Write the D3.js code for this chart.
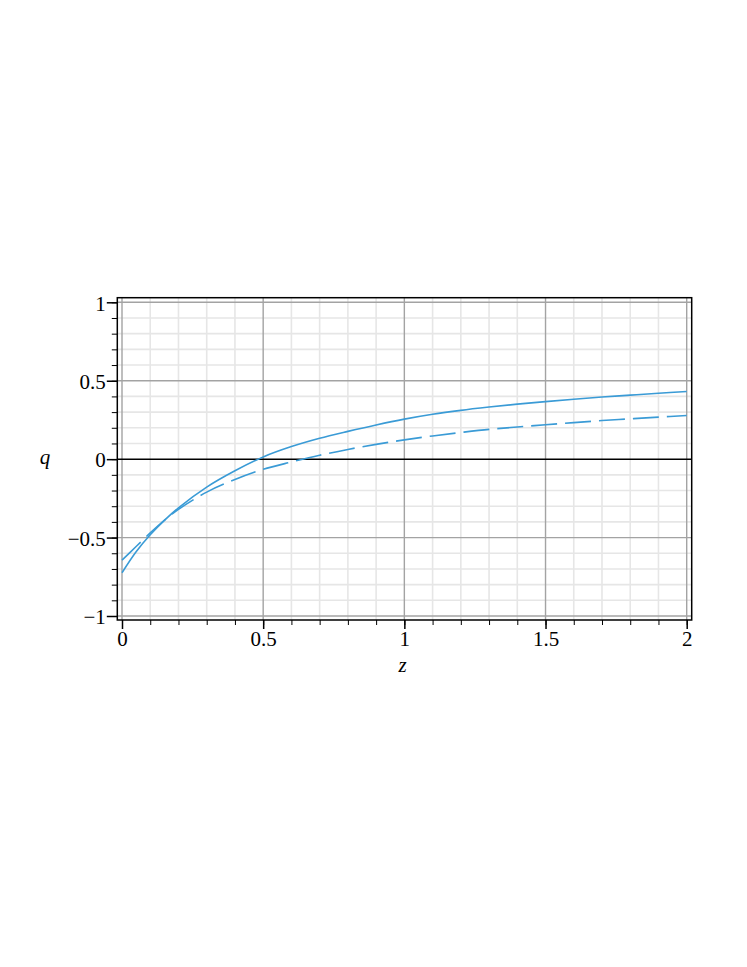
<!DOCTYPE html>
<html>
<head>
<meta charset="utf-8">
<script src="https://cdn.jsdelivr.net/npm/d3@7"></script>
<style>
  body { margin: 0; background: #fff; }
  svg { display: block; }
</style>
</head>
<body>
<div id="chart"></div>
<script>
// values
var zValues = [0, 0.05, 0.1, 0.15, 0.2, 0.3, 0.4, 0.5, 0.6, 0.7, 0.8, 0.9, 1.0,
               1.1, 1.2, 1.3, 1.4, 1.5, 1.6, 1.7, 1.8, 1.9, 2.0];
var qSolid = [-0.724, -0.59, -0.482, -0.39, -0.31, -0.178, -0.074, 0.014, 0.08, 0.133, 0.177, 0.218, 0.255,
              0.286, 0.311, 0.332, 0.351, 0.367, 0.382, 0.396, 0.408, 0.42, 0.431];
var qDashed = [-0.644, -0.557, -0.47, -0.39, -0.32, -0.21, -0.13, -0.065, -0.018, 0.025, 0.062, 0.094, 0.123,
               0.148, 0.17, 0.19, 0.205, 0.219, 0.233, 0.246, 0.257, 0.268, 0.278];
var xMajorTicks = [0, 0.5, 1, 1.5, 2];
var yMajorTicks = [-1, -0.5, 0, 0.5, 1];
var xLabel = "z", yLabel = "q";

var W = 747, H = 967;
var frame = {left: 117.3, top: 297.7, right: 691.7, bottom: 620};

var x = d3.scaleLinear().domain([0, 2]).range([122, 686.7]);
var y = d3.scaleLinear().domain([-1, 1]).range([616, 302.3]);

var xMinor = d3.range(0, 21).map(function(i) { return i / 10; });
var yMinor = d3.range(-10, 11).map(function(i) { return i / 10; });

var svg = d3.select("#chart").append("svg")
  .attr("width", W)
  .attr("height", H);

svg.append("rect").attr("width", W).attr("height", H).attr("fill", "#fff");

// minor grid
var grid = svg.append("g");
grid.selectAll(".vminor")
  .data(xMinor.filter(function(d) { return xMajorTicks.indexOf(d) < 0; }))
  .enter().append("line")
  .attr("x1", function(d) { return x(d); }).attr("x2", function(d) { return x(d); })
  .attr("y1", frame.top).attr("y2", frame.bottom)
  .attr("stroke", "#e6e6e6").attr("stroke-width", 1.6);
grid.selectAll(".hminor")
  .data(yMinor.filter(function(d) { return yMajorTicks.indexOf(d) < 0; }))
  .enter().append("line")
  .attr("y1", function(d) { return y(d); }).attr("y2", function(d) { return y(d); })
  .attr("x1", frame.left).attr("x2", frame.right)
  .attr("stroke", "#e6e6e6").attr("stroke-width", 1.6);

// major grid
grid.selectAll(".vmajor")
  .data(xMajorTicks)
  .enter().append("line")
  .attr("x1", function(d) { return x(d); }).attr("x2", function(d) { return x(d); })
  .attr("y1", frame.top).attr("y2", frame.bottom)
  .attr("stroke", "#a3a3a3").attr("stroke-width", 1.4);
grid.selectAll(".hmajor")
  .data(yMajorTicks.filter(function(d) { return d !== 0; }))
  .enter().append("line")
  .attr("y1", function(d) { return y(d); }).attr("y2", function(d) { return y(d); })
  .attr("x1", frame.left).attr("x2", frame.right)
  .attr("stroke", "#a3a3a3").attr("stroke-width", 1.4);

// zero line
svg.append("line")
  .attr("x1", frame.left).attr("x2", frame.right)
  .attr("y1", y(0)).attr("y2", y(0))
  .attr("stroke", "#000").attr("stroke-width", 1.5);

// curves
var line = d3.line()
  .x(function(d) { return x(d[0]); })
  .y(function(d) { return y(d[1]); })
  .curve(d3.curveCatmullRom.alpha(0.5));

svg.append("path")
  .datum(d3.zip(zValues, qSolid))
  .attr("d", line)
  .attr("fill", "none")
  .attr("stroke", "#3a9bd6")
  .attr("stroke-width", 1.6);

svg.append("path")
  .datum(d3.zip(zValues, qDashed))
  .attr("d", line)
  .attr("fill", "none")
  .attr("stroke", "#3a9bd6")
  .attr("stroke-width", 1.6)
  .attr("stroke-dasharray", "26,8");

// frame
svg.append("rect")
  .attr("x", frame.left).attr("y", frame.top)
  .attr("width", frame.right - frame.left)
  .attr("height", frame.bottom - frame.top)
  .attr("fill", "none").attr("stroke", "#000").attr("stroke-width", 1.5);

var fmt = function(d) { return d < 0 ? "\u2212" + Math.abs(d) : String(d); };

// left axis: minor then major
svg.append("g")
  .attr("transform", "translate(" + frame.left + ",0)")
  .call(d3.axisLeft(y).tickValues(yMinor).tickSize(5.5).tickFormat(""))
  .call(function(g) { g.select(".domain").remove(); });

var yAx = svg.append("g")
  .attr("transform", "translate(" + frame.left + ",0)")
  .call(d3.axisLeft(y).tickValues(yMajorTicks).tickSize(10.5).tickPadding(1).tickFormat(fmt));
yAx.select(".domain").remove();
yAx.selectAll("line").attr("stroke-width", 1.5);
yAx.selectAll("text")
  .attr("dy", "0.37em")
  .attr("fill", "#000")
  .style("font-family", "'Liberation Serif', 'Times New Roman', serif")
  .style("font-size", "21px");

// bottom axis
svg.append("g")
  .attr("transform", "translate(0," + frame.bottom + ")")
  .call(d3.axisBottom(x).tickValues(xMinor).tickSize(5).tickFormat(""))
  .call(function(g) { g.select(".domain").remove(); });

var xAx = svg.append("g")
  .attr("transform", "translate(0," + frame.bottom + ")")
  .call(d3.axisBottom(x).tickValues(xMajorTicks).tickSize(9).tickPadding(2).tickFormat(fmt));
xAx.select(".domain").remove();
xAx.selectAll("line").attr("stroke-width", 1.5);
xAx.selectAll("text")
  .attr("fill", "#000")
  .style("font-family", "'Liberation Serif', 'Times New Roman', serif")
  .style("font-size", "21px");

// axis titles
svg.append("text")
  .attr("x", 45).attr("y", 464)
  .attr("text-anchor", "middle")
  .style("font-family", "'Liberation Serif', 'Times New Roman', serif")
  .style("font-style", "italic")
  .style("font-size", "21px")
  .text(yLabel);

svg.append("text")
  .attr("x", 402.5).attr("y", 671.5)
  .attr("text-anchor", "middle")
  .style("font-family", "'Liberation Serif', 'Times New Roman', serif")
  .style("font-style", "italic")
  .style("font-size", "21px")
  .text(xLabel);
</script>
</body>
</html>
